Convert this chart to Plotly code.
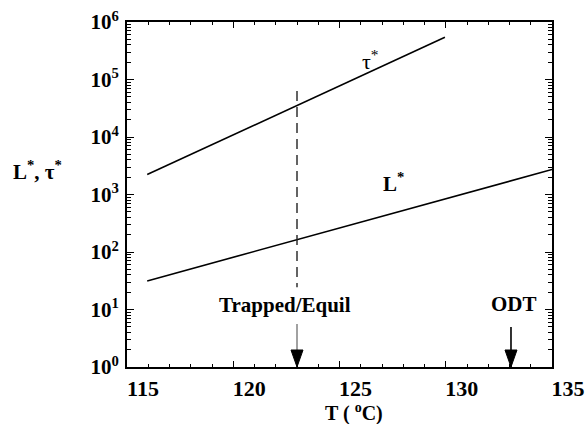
import numpy as np
import plotly.graph_objects as go

# ---- data ----
tau_T = [115.95, 129.96]
tau_val = [2220, 543000]
L_T = [115.95, 135.0]
L_val = [31.4, 2720]
T_trap = 123.0          # trapped/equilibrium temperature
T_odt = 133.07          # order-disorder transition
trap_dash_y = [63000, 24.4]
trap_shaft_y = [5.57, 1.0]
odt_shaft_y = [4.95, 1.0]

x_ticks = [115, 120, 125, 130, 135]
y_ticks = [1, 10, 100, 1000, 10000, 100000, 1000000]
y_ticktext = ["<b>10<sup>%d</sup></b>" % i for i in range(7)]
y_minor = [m * 10 ** d for d in range(6) for m in range(2, 10)]

FONT = "Liberation Serif"

fig = go.Figure()
fig.add_trace(go.Scatter(x=tau_T, y=tau_val, mode="lines",
                         line=dict(color="black", width=1.6), hoverinfo="skip"))
fig.add_trace(go.Scatter(x=L_T, y=L_val, mode="lines",
                         line=dict(color="black", width=1.6), hoverinfo="skip"))
fig.add_trace(go.Scatter(x=[T_trap, T_trap], y=trap_dash_y, mode="lines",
                         line=dict(color="#222", width=1.4, dash="10px,6px"), hoverinfo="skip"))
fig.add_trace(go.Scatter(x=[T_trap, T_trap], y=trap_shaft_y, mode="lines",
                         line=dict(color="#8a8a8a", width=1.6), hoverinfo="skip"))
fig.add_trace(go.Scatter(x=[T_odt, T_odt], y=odt_shaft_y, mode="lines",
                         line=dict(color="black", width=1.6), hoverinfo="skip"))

# arrow heads (pixel-sized, anchored at the bottom axis)
for t in (T_trap, T_odt):
    fig.add_shape(type="path", xref="x", yref="y domain",
                  xsizemode="pixel", ysizemode="pixel",
                  xanchor=t, yanchor=0,
                  path="M-6,17 L6,17 L0,0 Z",
                  fillcolor="black", line=dict(color="black", width=1))

ann_font = dict(family=FONT, size=21, color="black")
fig.add_annotation(x=126.44, y=5.34, text="τ<sup>*</sup>", showarrow=False,
                   font=dict(family=FONT, size=22, color="black"))
fig.add_annotation(x=127.52, y=3.21, text="<b>L<sup>*</sup></b>", showarrow=False,
                   font=ann_font)
fig.add_annotation(x=122.44, y=1.075, text="<b>Trapped/Equil</b>", showarrow=False,
                   font=ann_font)
fig.add_annotation(x=133.19, y=1.09, text="<b>ODT</b>", showarrow=False,
                   font=ann_font)
fig.add_annotation(xref="paper", yref="paper", x=-0.272, y=0.57, xanchor="left",
                   text="<b>L<sup>*</sup>, τ<sup>*</sup></b>", showarrow=False,
                   font=dict(family=FONT, size=21, color="black"))
fig.add_annotation(xref="paper", yref="paper", x=0.535, y=-0.131, yanchor="middle",
                   text="<b>T ( <sup>o</sup>C)</b>", showarrow=False,
                   font=dict(family=FONT, size=20, color="black"))

fig.update_xaxes(range=[115, 135], tickvals=x_ticks,
                 ticktext=["<b>%d</b>" % v for v in x_ticks],
                 ticks="inside", ticklen=6, tickwidth=1.3, tickcolor="black",
                 minor=dict(dtick=1, tick0=115, ticks="inside", ticklen=3,
                            tickwidth=1.2, tickcolor="black"),
                 showline=True, linecolor="black", linewidth=1.8, mirror="ticks",
                 showgrid=False, zeroline=False, automargin=False,
                 tickfont=dict(family=FONT, size=22, color="black"),
                 ticklabelshift=16, ticklabelstandoff=1)
fig.update_yaxes(type="log", range=[0, 6], tickvals=y_ticks, ticktext=y_ticktext,
                 ticks="inside", ticklen=7, tickwidth=1.3, tickcolor="black",
                 minor=dict(tickvals=y_minor, ticks="inside", ticklen=4,
                            tickwidth=1.1, tickcolor="black"),
                 showline=True, linecolor="black", linewidth=1.8, mirror="ticks",
                 showgrid=False, zeroline=False, automargin=False,
                 tickfont=dict(family=FONT, size=21, color="black"),
                 ticklabelstandoff=2)

fig.update_layout(width=587, height=424, showlegend=False,
                  margin=dict(l=127, r=35, t=22, b=57),
                  plot_bgcolor="white", paper_bgcolor="white")

fig.write_html("out.html")
